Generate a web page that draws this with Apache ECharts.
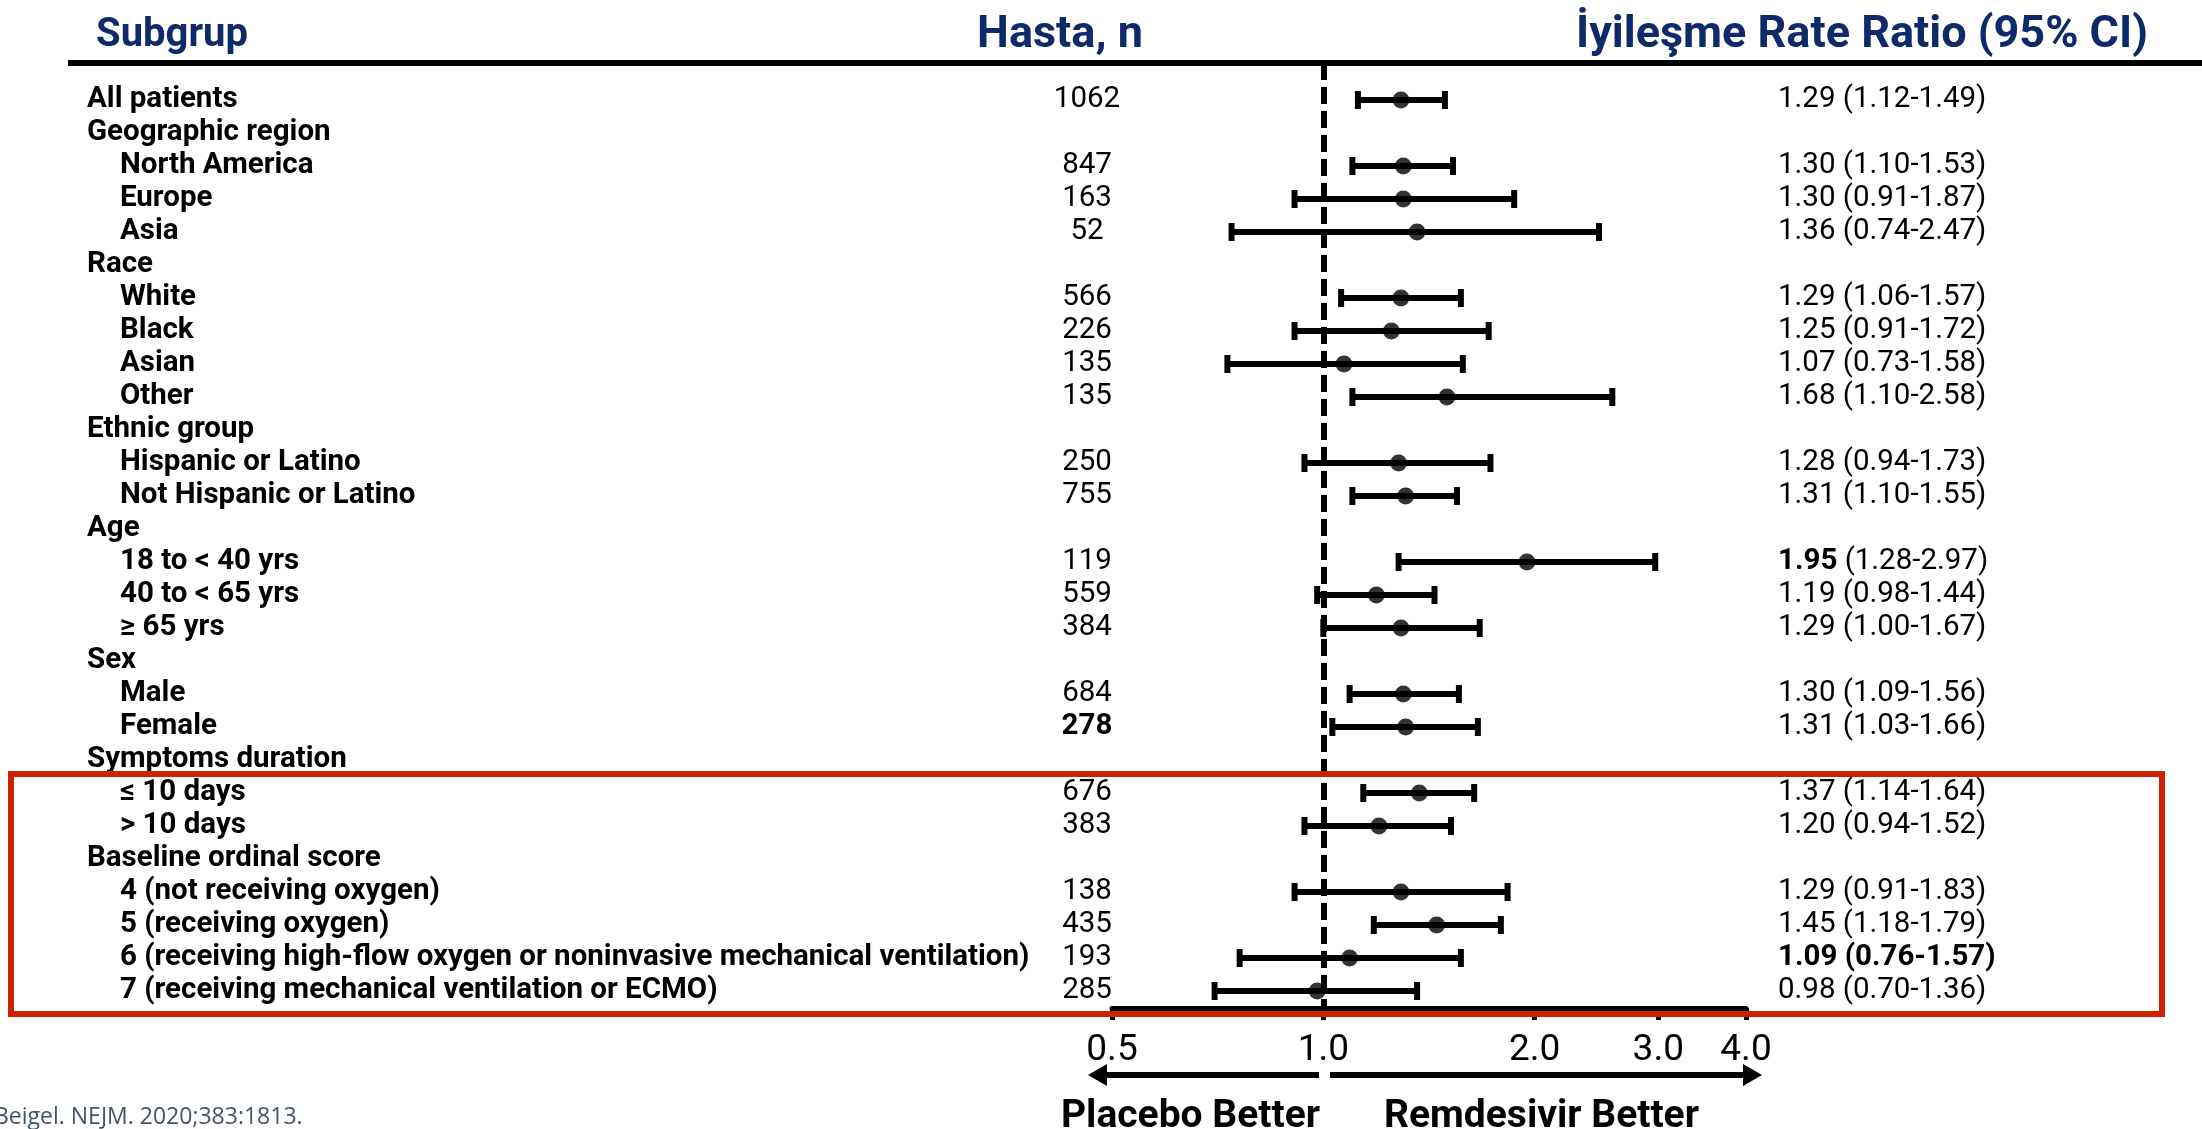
<!DOCTYPE html>
<html>
<head>
<meta charset="utf-8">
<script src="https://cdn.jsdelivr.net/npm/echarts@6/dist/echarts.min.js"></script>
<style>
  html, body { margin: 0; padding: 0; background: #fff; }
  #chart { width: 2202px; height: 1129px; }
</style>
</head>
<body>
<div id="chart"></div>
<script>
// ---------------- DATA ----------------
const subgroups = [
  'All patients', 'Geographic region', 'North America', 'Europe', 'Asia',
  'Race', 'White', 'Black', 'Asian', 'Other',
  'Ethnic group', 'Hispanic or Latino', 'Not Hispanic or Latino',
  'Age', '18 to < 40 yrs', '40 to < 65 yrs', '≥ 65 yrs',
  'Sex', 'Male', 'Female',
  'Symptoms duration', '≤ 10 days', '> 10 days',
  'Baseline ordinal score', '4 (not receiving oxygen)', '5 (receiving oxygen)',
  '6 (receiving high-flow oxygen or noninvasive mechanical ventilation)',
  '7 (receiving mechanical ventilation or ECMO)'
];
const subLevel = [0,0,1,1,1, 0,1,1,1,1, 0,1,1, 0,1,1,1, 0,1,1, 0,1,1, 0,1,1,1,1];
const patients = [1062,null,847,163,52, null,566,226,135,135, null,250,755, null,119,559,384, null,684,278, null,676,383, null,138,435,193,285];
// printed rate ratios (right-hand column)
const rateRatio = [1.29,null,1.30,1.30,1.36, null,1.29,1.25,1.07,1.68, null,1.28,1.31, null,1.95,1.19,1.29, null,1.30,1.31, null,1.37,1.20, null,1.29,1.45,1.09,0.98];
// dot positions as drawn in the figure (the "Other" dot sits left of its printed value)
const markerRatio = [1.29,null,1.30,1.30,1.36, null,1.29,1.25,1.07,1.50, null,1.28,1.31, null,1.95,1.19,1.29, null,1.30,1.31, null,1.37,1.20, null,1.29,1.45,1.09,0.98];
const ciLow  = [1.12,null,1.10,0.91,0.74, null,1.06,0.91,0.73,1.10, null,0.94,1.10, null,1.28,0.98,1.00, null,1.09,1.03, null,1.14,0.94, null,0.91,1.18,0.76,0.70];
const ciHigh = [1.49,null,1.53,1.87,2.47, null,1.57,1.72,1.58,2.58, null,1.73,1.55, null,2.97,1.44,1.67, null,1.56,1.66, null,1.64,1.52, null,1.83,1.79,1.57,1.36];
const axisTicks = [0.5, 1, 2, 3, 4];
const headers = ['Subgrup', 'Hasta, n', 'İyileşme Rate Ratio (95% CI)'];
const arrowLabels = ['Placebo Better', 'Remdesivir Better'];
const source = 'Beigel. NEJM. 2020;383:1813.';

// emphasis (style) flags
const boldN = ['Female'];
const boldEstOnly = ['18 to < 40 yrs'];
const boldWholeCI = ['6 (receiving high-flow oxygen or noninvasive mechanical ventilation)'];

// ---------------- STYLE / LAYOUT ----------------
const FONT = 'Roboto, "Noto Sans", sans-serif';
const FONT2 = '"Open Sans", "Noto Sans", sans-serif';
const NAVY = '#0e2a6a';
const RED = '#cd2100';
const ROW_FS = 29.5;
const TOP = 63, BOTTOM_Y = 1008, ROW0 = 100, ROWH = 33;
const yMin = -(ROW0 - TOP) / ROWH;
const yMax = (subgroups.length - 1) + (BOTTOM_Y - (ROW0 + (subgroups.length - 1) * ROWH)) / ROWH;
const gridH = BOTTOM_Y - TOP;

function hiddenY(gi) {
  return { type: 'value', gridIndex: gi, inverse: true, min: yMin, max: yMax, show: false };
}
function hiddenX(gi) {
  return { type: 'value', gridIndex: gi, min: 0, max: 1, show: false };
}

const ciData = [], ptData = [];
subgroups.forEach((s, i) => {
  if (rateRatio[i] != null) {
    ciData.push([i, ciLow[i], ciHigh[i]]);
    ptData.push([markerRatio[i], i]);
  }
});

const chart = echarts.init(document.getElementById('chart'), null, { renderer: 'canvas' });

const option = {
  backgroundColor: '#fff',
  animation: false,
  grid: [
    { left: 1112, width: 634, top: TOP, height: gridH },   // forest
    { left: 87, width: 900, top: TOP, height: gridH },     // subgroup labels
    { left: 1037, width: 100, top: TOP, height: gridH },   // n
    { left: 1778, width: 380, top: TOP, height: gridH }    // CI text
  ],
  xAxis: [
    {
      type: 'log', logBase: 2, gridIndex: 0, min: 0.5, max: 4, position: 'bottom',
      axisLine: { show: true, onZero: false, lineStyle: { color: '#000', width: 5 } },
      axisTick: { show: true, customValues: axisTicks, length: 12, inside: false,
                  lineStyle: { color: '#000', width: 5 } },
      axisLabel: { show: true, customValues: axisTicks, margin: 24,
                   formatter: v => Number(v).toFixed(1),
                   fontFamily: FONT, fontSize: 37, color: '#000' },
      splitLine: { show: false }, minorTick: { show: false }
    },
    hiddenX(1), hiddenX(2), hiddenX(3)
  ],
  yAxis: [hiddenY(0), hiddenY(1), hiddenY(2), hiddenY(3)],
  series: [
    {
      type: 'custom', xAxisIndex: 0, yAxisIndex: 0, z: 3,
      data: ciData,
      encode: { x: [1, 2], y: 0 },
      renderItem: (params, api) => {
        const row = api.value(0), lo = api.value(1), hi = api.value(2);
        const a = api.coord([lo, row]), b = api.coord([hi, row]);
        const h = 9;
        const st = { stroke: '#000', lineWidth: 6, lineCap: 'butt' };
        return {
          type: 'group', children: [
            { type: 'line', shape: { x1: a[0], y1: a[1], x2: b[0], y2: b[1] }, style: st },
            { type: 'line', shape: { x1: a[0], y1: a[1] - h, x2: a[0], y2: a[1] + h }, style: st },
            { type: 'line', shape: { x1: b[0], y1: b[1] - h, x2: b[0], y2: b[1] + h }, style: st }
          ]
        };
      }
    },
    {
      type: 'scatter', xAxisIndex: 0, yAxisIndex: 0, z: 4,
      data: ptData, symbol: 'circle', symbolSize: 17,
      itemStyle: { color: '#000' },
      markLine: {
        silent: true, symbol: 'none', label: { show: false },
        lineStyle: { color: '#000', width: 6, type: [17, 7] },
        data: [{ xAxis: 1 }]
      }
    },
    {
      type: 'custom', xAxisIndex: 1, yAxisIndex: 1,
      data: subgroups.map((s, i) => [0, i]),
      encode: { x: 0, y: 1 },
      renderItem: (params, api) => {
        const i = params.dataIndex;
        const p = api.coord([0, i]);
        return {
          type: 'text', x: p[0] + (subLevel[i] ? 33 : 0), y: p[1],
          style: { text: subgroups[i], fill: '#000', fontFamily: FONT, fontSize: ROW_FS,
                   fontWeight: 'bold', align: 'left', verticalAlign: 'middle' }
        };
      }
    },
    {
      type: 'custom', xAxisIndex: 2, yAxisIndex: 2,
      data: subgroups.map((s, i) => [0.5, i]),
      encode: { x: 0, y: 1 },
      renderItem: (params, api) => {
        const i = params.dataIndex;
        if (patients[i] == null) return null;
        const p = api.coord([0.5, i]);
        return {
          type: 'text', x: p[0], y: p[1],
          style: { text: String(patients[i]), fill: '#000', fontFamily: FONT, fontSize: ROW_FS,
                   fontWeight: boldN.includes(subgroups[i]) ? 'bold' : 'normal',
                   align: 'center', verticalAlign: 'middle' }
        };
      }
    },
    {
      type: 'custom', xAxisIndex: 3, yAxisIndex: 3,
      data: subgroups.map((s, i) => [0, i]),
      encode: { x: 0, y: 1 },
      renderItem: (params, api) => {
        const i = params.dataIndex;
        if (rateRatio[i] == null) return null;
        const p = api.coord([0, i]);
        const est = rateRatio[i].toFixed(2);
        const ci = '(' + ciLow[i].toFixed(2) + '-' + ciHigh[i].toFixed(2) + ')';
        const s = subgroups[i];
        let text, weight = 'normal';
        if (boldEstOnly.includes(s)) text = '{b|' + est + '} ' + ci;
        else { text = est + ' ' + ci; if (boldWholeCI.includes(s)) weight = 'bold'; }
        return {
          type: 'text', x: p[0], y: p[1],
          style: { text: text, fill: '#000', fontFamily: FONT, fontSize: ROW_FS, fontWeight: weight,
                   align: 'left', verticalAlign: 'middle',
                   rich: { b: { fontFamily: FONT, fontSize: ROW_FS, fontWeight: 'bold', fill: '#000' } } }
        };
      }
    }
  ],
  graphic: [
    // header texts
    { type: 'text', x: 96, y: 36, z: 10,
      style: { text: headers[0], fill: NAVY, fontFamily: FONT, fontSize: 40, fontWeight: 'bold',
               align: 'left', verticalAlign: 'middle' } },
    { type: 'text', x: 1060, y: 36, z: 10,
      style: { text: headers[1], fill: NAVY, fontFamily: FONT, fontSize: 45, fontWeight: 'bold',
               align: 'center', verticalAlign: 'middle' } },
    { type: 'text', x: 2148, y: 36, z: 10,
      style: { text: headers[2], fill: NAVY, fontFamily: FONT, fontSize: 45, fontWeight: 'bold',
               align: 'right', verticalAlign: 'middle' } },
    // header rule
    { type: 'line', z: 10, shape: { x1: 68, y1: 63, x2: 2202, y2: 63 },
      style: { stroke: '#000', lineWidth: 6 } },
    // red highlight box
    { type: 'rect', z: 20, shape: { x: 11, y: 774, width: 2151, height: 240 },
      style: { fill: 'none', stroke: RED, lineWidth: 6 } },
    // arrows
    { type: 'line', z: 10, shape: { x1: 1104, y1: 1075, x2: 1319, y2: 1075 },
      style: { stroke: '#000', lineWidth: 6 } },
    { type: 'polygon', z: 10, shape: { points: [[1088, 1075], [1107, 1064], [1107, 1086]] },
      style: { fill: '#000' } },
    { type: 'line', z: 10, shape: { x1: 1330, y1: 1075, x2: 1745, y2: 1075 },
      style: { stroke: '#000', lineWidth: 6 } },
    { type: 'polygon', z: 10, shape: { points: [[1762, 1075], [1743, 1064], [1743, 1086]] },
      style: { fill: '#000' } },
    { type: 'text', x: 1320, y: 1117, z: 10,
      style: { text: arrowLabels[0], fill: '#000', fontFamily: FONT, fontSize: 39, fontWeight: 'bold',
               align: 'right', verticalAlign: 'middle' } },
    { type: 'text', x: 1384, y: 1117, z: 10,
      style: { text: arrowLabels[1], fill: '#000', fontFamily: FONT, fontSize: 39, fontWeight: 'bold',
               align: 'left', verticalAlign: 'middle' } },
    // source
    { type: 'text', x: -6, y: 1117, z: 10,
      style: { text: source, fill: '#44546a', fontFamily: FONT2, fontSize: 23,
               align: 'left', verticalAlign: 'middle' } }
  ]
};
chart.setOption(option);
</script>
</body>
</html>
